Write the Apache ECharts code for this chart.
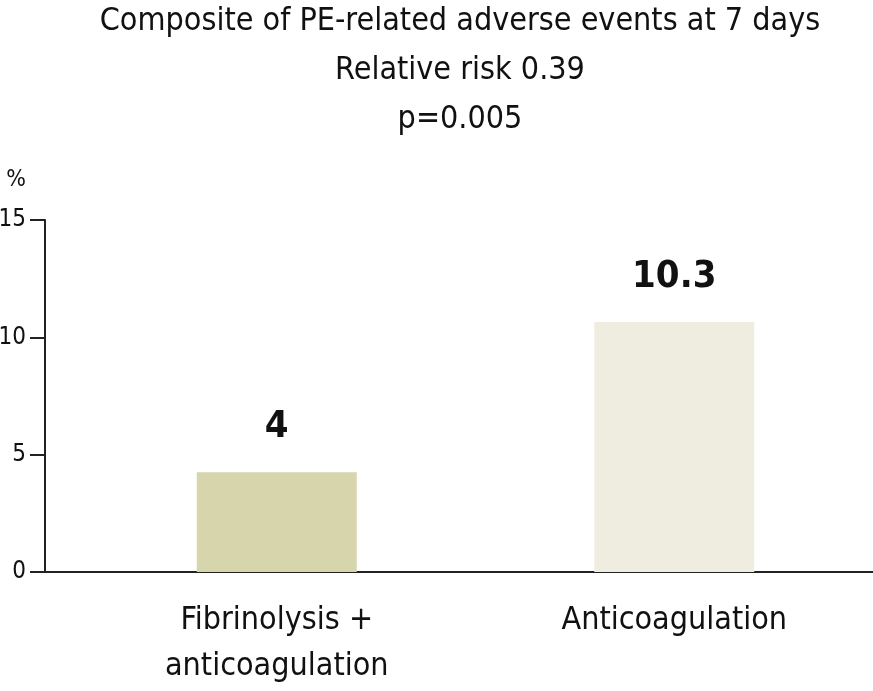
<!DOCTYPE html>
<html>
<head>
<meta charset="utf-8">
<script src="https://cdn.jsdelivr.net/npm/echarts@6/dist/echarts.min.js"></script>
<style>
html,body{margin:0;padding:0;background:#fff;}
#chart{width:873px;height:691px;}
</style>
</head>
<body>
<div id="chart"></div>
<script>
const categories = ['Fibrinolysis +\nanticoagulation', 'Anticoagulation'];
const values = [4.25, 10.65];
const valueLabels = ['4', '10.3'];
const barColors = ['#d6d5ab', '#efede0'];
const yTicks = [0, 5, 10, 15];
const titleLines = ['Composite of PE-related adverse events at 7 days', 'Relative risk 0.39', 'p=0.005'];

const FONT = "'Liberation Sans Narrow', 'DejaVu Sans Condensed', sans-serif";
const chart = echarts.init(document.getElementById('chart'));
const GRID_TOP = 220, GRID_BOTTOM = 119;

chart.setOption({
  animation: false,
  backgroundColor: '#fff',
  title: {
    text: titleLines.join('\n'),
    left: 460,
    textAlign: 'center',
    top: -3,
    padding: 0,
    textStyle: { fontFamily: FONT, fontSize: 32, fontWeight: 'normal', color: '#111', lineHeight: 49 }
  },
  grid: [
    { left: 78, right: 0, top: GRID_TOP, bottom: GRID_BOTTOM, containLabel: false, outerBoundsMode: 'none' },
    { left: 45, right: 0, top: GRID_TOP, bottom: GRID_BOTTOM, containLabel: false, outerBoundsMode: 'none' }
  ],
  xAxis: [
    {
      type: 'category', gridIndex: 0, data: categories,
      axisLine: { show: false }, axisTick: { show: false },
      axisLabel: { fontFamily: FONT, fontSize: 32, color: '#111', lineHeight: 46, margin: 26, interval: 0 }
    },
    {
      type: 'value', gridIndex: 1, min: 0, max: 1,
      axisLine: { show: true, onZero: false, lineStyle: { color: '#222', width: 2 } },
      axisTick: { show: false }, axisLabel: { show: false }, splitLine: { show: false }
    }
  ],
  yAxis: [
    {
      type: 'value', gridIndex: 1, min: yTicks[0], max: yTicks[yTicks.length - 1], interval: 5,
      name: '%', nameLocation: 'end', nameGap: 28,
      nameTextStyle: { fontFamily: FONT, fontSize: 23, color: '#111', align: 'right', verticalAlign: 'bottom', padding: [0, 19, 0, 0] },
      axisLine: { show: true, lineStyle: { color: '#222', width: 2 } },
      axisTick: { show: true, inside: false, length: 15, lineStyle: { color: '#222', width: 2 } },
      axisLabel: { fontFamily: FONT, fontSize: 24, color: '#111', margin: 19 },
      splitLine: { show: false }
    },
    {
      type: 'value', gridIndex: 0, min: yTicks[0], max: yTicks[yTicks.length - 1], interval: 5,
      show: false
    }
  ],
  series: [{
    type: 'bar',
    xAxisIndex: 0, yAxisIndex: 1,
    barWidth: 160,
    data: values.map((v, i) => ({ value: v, itemStyle: { color: barColors[i] } })),
    label: {
      show: true, position: 'top', distance: 26,
      formatter: p => valueLabels[p.dataIndex],
      fontFamily: FONT, fontSize: 38, fontWeight: 'bold', color: '#111'
    }
  }]
});
</script>
</body>
</html>
